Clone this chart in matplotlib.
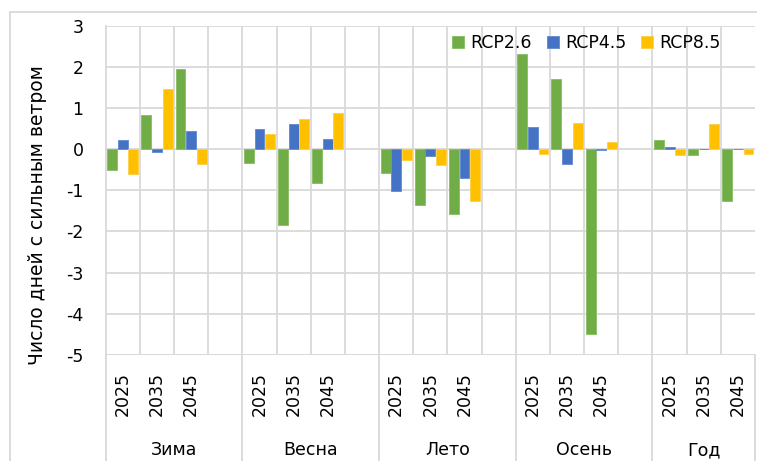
import matplotlib.pyplot as plt
from matplotlib.patches import Patch
from matplotlib.lines import Line2D
import matplotlib
import numpy as np

matplotlib.rc('font', family='DejaVu Sans', size=12.5)

seasons = ['Зима', 'Весна', 'Лето', 'Осень', 'Год']
years = ['2025', '2035', '2045']
scenarios = ['RCP2.6', 'RCP4.5', 'RCP8.5']

# values per season, three years each
rcp26 = [-0.52, 0.83, 1.94,
         -0.34, -1.85, -0.83,
         -0.58, -1.36, -1.58,
         2.31, 1.71, -4.50,
         0.21, -0.15, -1.26]
rcp45 = [0.22, -0.08, 0.44,
         0.49, 0.62, 0.25,
         -1.01, -0.16, -0.71,
         0.53, -0.36, -0.03,
         0.06, 0.0, 0.0]
rcp85 = [-0.61, 1.47, -0.36,
         0.36, 0.74, 0.87,
         -0.26, -0.39, -1.26,
         -0.13, 0.64, 0.16,
         -0.15, 0.62, -0.13]

colors = ['#70AD47', '#4472C4', '#FFC000']
edges = ['#8cc06a', '#6a8fd2', '#ffd04d']
grid_c = '#d9d9d9'

W, H = 757, 461
fig = plt.figure(figsize=(W / 100, H / 100), dpi=100)
ax = fig.add_axes([105.7 / W, 1 - 355 / H, 649.3 / W, 329.5 / H])

# category slots: each season gets 4 slots (last one empty), "Год" only 3
n_cat = 4 * (len(seasons) - 1) + 3
pos = np.array([g * 4 + j + 0.5 for g in range(len(seasons)) for j in range(len(years))])

offsets = [-0.31, 0.0, 0.31]
for vals, c, ec, off, name in zip([rcp26, rcp45, rcp85], colors, edges, offsets, scenarios):
    ax.bar(pos + off, vals, width=0.29, color=c, edgecolor=ec, linewidth=0.7,
           label=name, zorder=3)

ax.set_xlim(0, n_cat)
ax.set_ylim(-5, 3)
ax.set_yticks(range(-5, 4))
ax.set_yticklabels([str(v) for v in range(-5, 4)])
ax.tick_params(axis='y', length=0, pad=16)
ax.yaxis.grid(True, color=grid_c, linewidth=1.3, zorder=0)

# vertical grid at slot boundaries
for b in range(1, n_cat):
    ax.axvline(b, color=grid_c, linewidth=1.3, zorder=0)

ax.set_xticks(pos)
ax.set_xticklabels(years * len(seasons), rotation=90)
ax.tick_params(axis='x', length=0, pad=12)

for s in ['top', 'bottom', 'right']:
    ax.spines[s].set_visible(False)
ax.spines['left'].set_color(grid_c)
ax.spines['left'].set_linewidth(1.3)

# group separators reaching into the label area
drop = -(H - 355) / 329.5
for g in range(len(seasons) + 1):
    xb = min(g * 4, n_cat)
    ax.add_line(Line2D([xb, xb], [0, drop], transform=ax.get_xaxis_transform(),
                       color=grid_c, linewidth=1.3, clip_on=False))

ax.axhline(-5, color=grid_c, linewidth=1.3, zorder=0)

for g, name in enumerate(seasons):
    start = g * 4
    end = min(start + 4, n_cat)
    ax.text((start + end) / 2, -0.288, name, transform=ax.get_xaxis_transform(),
            ha='center', va='center')

ax.set_ylabel('Число дней с сильным ветром', fontsize=13.5)
ax.yaxis.set_label_coords(-0.091, 0.425)

handles = [Patch(facecolor=c, edgecolor=ec, linewidth=0.7) for c, ec in zip(colors, edges)]
ax.legend(handles, scenarios, loc='center', bbox_to_anchor=(0.7405, 0.947), ncol=3,
          frameon=False, handlelength=0.68, handleheight=0.68, handletextpad=0.38,
          columnspacing=0.85, borderpad=0)

# outer chart frame (partly cropped)
fy = 1 - 12 / H
fx = 10 / W
fig.add_artist(Line2D([fx, fx], [0, fy], color=grid_c, linewidth=1.3, transform=fig.transFigure))
fig.add_artist(Line2D([fx, 1], [fy, fy], color=grid_c, linewidth=1.3, transform=fig.transFigure))

fig.savefig('out.png', dpi=100)
